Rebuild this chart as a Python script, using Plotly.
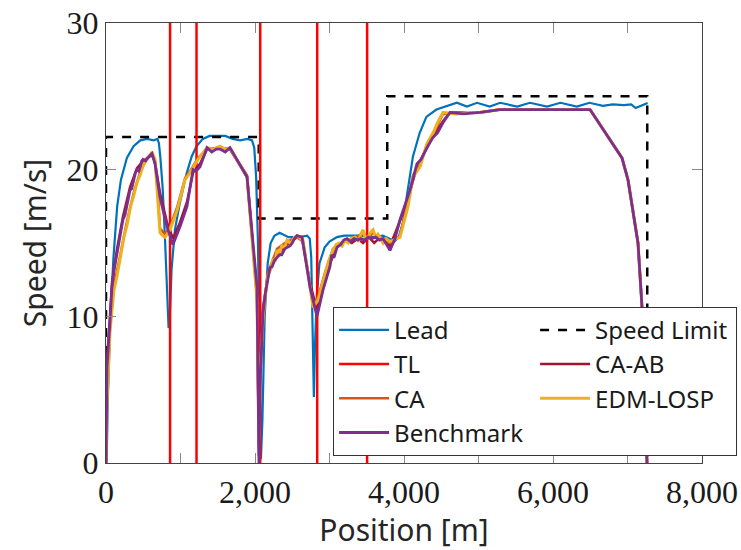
import plotly.graph_objects as go

# ---------------- data ----------------
tl_positions = [860, 1215, 2070, 2835, 3505]

limit_breaks = [0, 2050, 3775, 7265]
limit_values = [22.22, 16.67, 25.0]

lead_x = [0, 10, 25, 60, 100, 150, 200, 280, 370, 460, 550, 640, 690, 710, 730, 760,
          790, 815, 840, 855, 880, 925, 990, 1080, 1150, 1215, 1300, 1390, 1500, 1600,
          1700, 1800, 1900, 1960, 1990, 2015, 2040, 2060, 2080, 2100, 2130, 2170, 2210,
          2260, 2330, 2450, 2600, 2700, 2735, 2755, 2775, 2790, 2805, 2830, 2865, 2935,
          3000, 3100, 3200, 3400, 3600, 3715, 3800, 3870, 3930, 3985, 4050, 4120, 4210,
          4300, 4435, 4570, 4710, 4845, 4980, 5150, 5290, 5520, 5690, 5920, 6100, 6320,
          6490, 6670, 6800, 6950, 7050, 7110, 7180, 7270]
lead_y = [0, 0.5, 4.5, 10, 14, 17.5, 19.3, 20.8, 21.6, 22.0, 22.1, 22.0, 22.1, 21.8,
          20.8, 18.8, 15.5, 12, 9.2, 9.6, 13.2, 15.9, 17.7, 19.7, 20.9, 21.6, 22.1, 22.3,
          22.3, 22.3, 22.1, 22.0, 22.1, 22.0, 21.5, 19.5, 15, 6, 0.3, 3, 10, 13.6, 15.0,
          15.5, 15.7, 15.4, 15.4, 15.5, 15.3, 14.0, 9, 4.5, 8, 11.5, 13.6, 14.7, 15.1, 15.4,
          15.5, 15.5, 15.4, 15.5, 15.3, 15.1, 15.4, 16.4, 18.6, 20.9, 22.5, 23.6, 24.1,
          24.3, 24.56, 24.3, 24.56, 24.3, 24.56, 24.3, 24.56, 24.3, 24.56, 24.3, 24.56,
          24.35, 24.45, 24.4, 24.45, 24.2, 24.35, 24.55]

bench_x = [0, 13, 54, 80, 110, 148, 175, 190, 210, 228, 255, 280, 300, 322, 345, 370,
           395, 416, 440, 460, 480, 497, 530, 560, 590, 617, 658, 725, 819, 899, 993,
           1087, 1168, 1210, 1262, 1356, 1420, 1480, 1530, 1600, 1664, 1893, 2027, 2053,
           2067, 2107, 2140, 2174, 2200, 2230, 2260, 2295, 2330, 2360, 2400, 2430, 2470,
           2500, 2530, 2564, 2631, 2738, 2832, 2913, 2960, 3007, 3030, 3060, 3101, 3150,
           3190, 3235, 3280, 3330, 3380, 3420, 3470, 3520, 3570, 3620, 3670, 3718, 3812,
           3880, 3946, 4010, 4081, 4174, 4230, 4309, 4389, 4450, 4523, 4617, 4800, 5020,
           5154, 5289, 6497, 6926, 7007, 7141, 7195, 7262]
bench_y = [0, 6.5, 9.7, 12, 13.2, 14.3, 14.9, 15.3, 16.0, 16.6, 16.9, 17.6, 18.2, 18.6,
           18.7, 19.2, 19.8, 20.0, 19.9, 20.2, 20.6, 20.7, 20.6, 20.8, 21.0, 21.1, 20.4,
           18.1, 16.1, 14.9, 16.1, 17.5, 20.0, 19.9, 20.2, 21.5, 21.2, 21.4, 21.4, 21.2,
           21.5, 19.5, 12, 0, 5.2, 10.2, 11.6, 12.5, 13.3, 13.4, 13.8, 14.0, 14.2, 14.2,
           14.6, 14.7, 14.8, 15.0, 15.3, 15.5, 15.4, 12, 10, 11.8, 12.6, 13.4, 14.2, 14.0,
           14.7, 14.9, 15.2, 15.3, 15.1, 15.3, 15.2, 15.3, 15.2, 15.4, 15.3, 15.4, 15.2,
           15.3, 14.5, 15.3, 16.6, 17.5, 18.6, 20.4, 20.7, 21.5, 22.2, 22.5, 23.2, 23.9,
           23.8, 23.9, 24.0, 24.1, 24.1, 20.8, 19.3, 15.0, 10.6, 0]

caab_x = [0, 13, 54, 80, 148, 228, 322, 416, 497, 617, 658, 725, 819, 899, 993, 1087,
          1168, 1262, 1356, 1530, 1664, 1893, 2027, 2053, 2067, 2107, 2174, 2295, 2430,
          2564, 2631, 2738, 2832, 2913, 3007, 3101, 3235, 3300, 3380, 3450, 3530, 3600,
          3660, 3718, 3812, 3946, 4081, 4174, 4309, 4389, 4523, 4617, 5020, 5154, 5289,
          6497, 6926, 7007, 7141, 7195, 7262]
caab_y = [0, 7, 10, 12.3, 14.6, 16.8, 18.8, 20.1, 20.6, 21.0, 20.5, 18.4, 16.4, 15.3,
          16.4, 17.8, 19.8, 20.4, 21.4, 21.5, 21.4, 19.6, 11.5, 0.5, 6, 10.6, 12.8, 14.2,
          14.9, 15.4, 15.3, 12.3, 10.4, 12.0, 13.6, 14.8, 15.2, 15.0, 15.3, 15.0, 15.4,
          15.0, 15.3, 15.2, 14.8, 16.5, 18.5, 20.2, 21.5, 22.3, 23.3, 23.9, 23.9, 24.0,
          24.1, 24.1, 20.8, 19.3, 15.0, 10.6, 0]

edm_x = [0, 13, 54, 107, 150, 188, 240, 282, 330, 376, 420, 456, 500, 550, 617, 658,
         698, 725, 760, 792, 859, 953, 1060, 1128, 1235, 1356, 1440, 1530, 1600, 1664,
         1893, 2027, 2053, 2067, 2107, 2140, 2174, 2210, 2240, 2270, 2295, 2330, 2360,
         2400, 2430, 2470, 2500, 2530, 2564, 2644, 2725, 2779, 2846, 2940, 2990, 3047,
         3090, 3130, 3170, 3208, 3250, 3290, 3342, 3390, 3420, 3450, 3480, 3517, 3550,
         3584, 3620, 3650, 3678, 3720, 3760, 3812, 3946, 4054, 4121, 4215, 4309, 4389,
         4450, 4523, 4700, 4850, 5020, 5289, 6497, 6926, 7007, 7141, 7195, 7262]
edm_y = [0, 4, 9, 11.8, 12.8, 13.8, 15.4, 16.2, 17.5, 18.3, 19.2, 19.6, 20.3, 20.7,
         21.2, 20.7, 17.9, 15.7, 15.5, 15.4, 15.9, 17.2, 19.3, 19.8, 20.7, 21.5, 21.4,
         21.6, 21.4, 21.5, 19.5, 11.1, 1.6, 5.7, 9.7, 11.5, 12.8, 13.2, 13.9, 13.7, 14.5,
         14.3, 14.8, 14.7, 15.2, 15.0, 15.1, 15.4, 15.5, 15.2, 12.5, 10.6, 11.1, 12.8,
         13.8, 14.5, 14.9, 15.0, 14.8, 15.2, 15.0, 15.3, 15.4, 15.1, 15.6, 15.9, 15.3,
         15.4, 15.7, 15.9, 15.4, 15.6, 15.4, 15.0, 15.3, 15.1, 15.4, 17.5, 19.5, 20.2,
         21.8, 22.5, 23.2, 23.9, 23.8, 23.9, 23.9, 24.1, 24.1, 20.8, 19.3, 15.0, 10.6, 0]

ca_x = [0, 13, 54, 107, 188, 282, 376, 456, 550, 617, 658, 698, 725, 792, 859, 953,
        1060, 1128, 1235, 1356, 1530, 1664, 1893, 2027, 2053, 2067, 2107, 2174, 2295,
        2430, 2564, 2644, 2725, 2779, 2846, 2940, 3047, 3208, 3342, 3450, 3517, 3584,
        3678, 3812, 3946, 4054, 4121, 4215, 4309, 4389, 4523, 5020, 5289, 6497, 6926,
        7007, 7141, 7195, 7262]
ca_y = [0, 5, 9.3, 12.1, 14.1, 16.5, 18.5, 19.8, 20.8, 21.1, 20.6, 18.3, 16.0, 15.6,
        16.1, 17.4, 19.4, 19.9, 20.8, 21.4, 21.5, 21.4, 19.5, 11.3, 1.2, 5.5, 10, 13,
        14.6, 15.1, 15.4, 15.1, 12.6, 10.8, 11.3, 13.0, 14.6, 15.2, 15.3, 15.7, 15.3,
        15.7, 15.3, 15.0, 15.5, 17.8, 19.6, 20.4, 21.7, 22.4, 23.8, 23.9, 24.1, 24.1,
        20.8, 19.3, 15.0, 10.6, 0]

# ---------------- derived geometry ----------------
tl_x, tl_y = [], []
for p in tl_positions:
    tl_x += [p, p, None]
    tl_y += [0, 30, None]

sl_x, sl_y = [limit_breaks[0]], [0]
for i, v in enumerate(limit_values):
    sl_x += [limit_breaks[i], limit_breaks[i + 1]]
    sl_y += [v, v]
sl_x.append(limit_breaks[-1])
sl_y.append(0)

fig = go.Figure()
lw = 2.2
fig.add_trace(go.Scatter(x=lead_x, y=lead_y, mode="lines", name="Lead",
                         line=dict(color="#0072BD", width=lw)))
fig.add_trace(go.Scatter(x=sl_x, y=sl_y, mode="lines", name="Speed Limit",
                         line=dict(color="black", width=2.5, dash="dash")))
fig.add_trace(go.Scatter(x=tl_x, y=tl_y, mode="lines", name="TL",
                         line=dict(color="#FF0000", width=2.5)))
fig.add_trace(go.Scatter(x=caab_x, y=caab_y, mode="lines", name="CA-AB",
                         line=dict(color="#A2142F", width=2.5)))
fig.add_trace(go.Scatter(x=ca_x, y=ca_y, mode="lines", name="CA",
                         line=dict(color="#D95319", width=2.5)))
fig.add_trace(go.Scatter(x=edm_x, y=edm_y, mode="lines", name="EDM-LOSP",
                         line=dict(color="#EDB120", width=3)))
fig.add_trace(go.Scatter(x=bench_x, y=bench_y, mode="lines", name="Benchmark",
                         line=dict(color="#7E2F8E", width=2.8)))

tickfont = dict(family="Liberation Serif", size=32, color="#1a1a1a")
titlefont = dict(family="Noto Sans", size=30, color="#262626")

fig.update_layout(
    width=741, height=550,
    margin=dict(l=106, r=39, t=23, b=87, autoexpand=False),
    minreducedwidth=596, minreducedheight=440,
    plot_bgcolor="white", paper_bgcolor="white",
    showlegend=True,
    legend=dict(
        x=0.381, y=0.355, xanchor="left", yanchor="top",
        orientation="h", entrywidth=136, entrywidthmode="pixels", itemwidth=50,
        bgcolor="white", bordercolor="#333333", borderwidth=1,
        font=dict(family="Noto Sans", size=24, color="#1a1a1a"),
    ),
    xaxis=dict(
        range=[0, 8000], tickvals=[0, 2000, 4000, 6000, 8000], tickformat=",d",
        ticks="inside", ticklen=10, tickcolor="#888888", tickwidth=1,
        minor=dict(tickvals=[1000, 3000, 5000, 7000], ticks="inside", ticklen=10,
                   tickcolor="#888888", tickwidth=1),
        showgrid=False, zeroline=False, showline=True, linecolor="#444444",
        linewidth=1.3, mirror="ticks", tickfont=tickfont, automargin=False,
        title=dict(text="Position [m]", font=titlefont, standoff=14),
    ),
    yaxis=dict(
        range=[0, 30], tickvals=[0, 10, 20, 30],
        ticks="inside", ticklen=10, tickcolor="#888888", tickwidth=1,
        showgrid=False, zeroline=False, showline=True, linecolor="#444444",
        linewidth=1.3, mirror="ticks", tickfont=tickfont, automargin=False,
        title=dict(text="Speed [m/s]", font=titlefont, standoff=10),
    ),
)

fig.write_html("out.html")
